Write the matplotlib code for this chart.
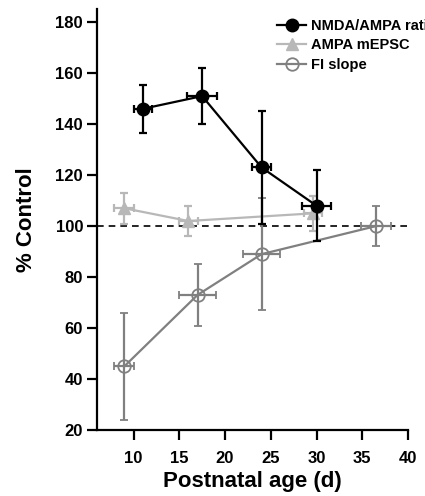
import matplotlib
matplotlib.use("Agg")
import matplotlib.pyplot as plt
from matplotlib.lines import Line2D

plt.rcParams['font.family'] = ['Liberation Sans', 'DejaVu Sans']
plt.rcParams['font.weight'] = 'bold'

# NMDA/AMPA ratio
nmda_x = [11.0, 17.5, 24.0, 30.0]
nmda_y = [146, 151, 123, 108]
nmda_xerr = [1.0, 1.6, 1.0, 1.6]
nmda_yerr = [9.5, 11, 22, 14]

# AMPA mEPSC
ampa_x = [9.0, 16.0, 29.6]
ampa_y = [107, 102, 105]
ampa_xerr = [1.1, 1.0, 1.0]
ampa_yerr = [6, 6, 7]

# FI slope
fi_x = [9.0, 17.0, 24.0, 36.5]
fi_y = [45, 73, 89, 100]
fi_xerr = [1.1, 2.0, 2.0, 1.6]
fi_yerr = [21, 12, 22, 8]

x_ticks = [10, 15, 20, 25, 30, 35, 40]
y_ticks = [20, 40, 60, 80, 100, 120, 140, 160, 180]

fig = plt.figure(figsize=(4.25, 4.96), dpi=100)
ax = fig.add_axes([0.228, 0.133, 0.732, 0.848])

c_fi = '#808080'
c_ampa = '#b8b8b8'

ax.axhline(100, color='black', linestyle=(0, (4, 3)), linewidth=1.2, zorder=1)

ax.errorbar(fi_x, fi_y, xerr=fi_xerr, yerr=fi_yerr, color=c_fi, marker='o',
            markersize=9, markerfacecolor='none', markeredgecolor=c_fi,
            markeredgewidth=1.3, linewidth=1.6, elinewidth=1.6, capsize=3,
            capthick=1.6, zorder=2)
ax.errorbar(ampa_x, ampa_y, xerr=ampa_xerr, yerr=ampa_yerr, color=c_ampa, marker='^',
            markersize=9, linewidth=1.6, elinewidth=1.6, capsize=3, capthick=1.6,
            zorder=3)
ax.errorbar(nmda_x, nmda_y, xerr=nmda_xerr, yerr=nmda_yerr, color='black', marker='o',
            markersize=9, linewidth=1.6, elinewidth=1.6, capsize=3, capthick=1.6,
            zorder=4)

ax.set_xlim(6, 40)
ax.set_ylim(20, 185)
ax.set_xticks(x_ticks)
ax.set_yticks(y_ticks)
ax.spines['top'].set_visible(False)
ax.spines['right'].set_visible(False)
ax.spines['left'].set_linewidth(1.6)
ax.spines['bottom'].set_linewidth(1.6)
ax.tick_params(width=1.6, length=7, labelsize=12)
ax.tick_params(axis='x', pad=8)
ax.tick_params(axis='y', pad=3)
for lbl in ax.get_xticklabels() + ax.get_yticklabels():
    lbl.set_fontweight('bold')

ax.set_xlabel('Postnatal age (d)', fontsize=16, fontweight='bold', labelpad=4)
ax.set_ylabel('% Control', fontsize=16, fontweight='bold', labelpad=13)

handles = [
    Line2D([], [], color='black', marker='o', markersize=9, linewidth=1.6),
    Line2D([], [], color=c_ampa, marker='^', markersize=9, linewidth=1.6),
    Line2D([], [], color=c_fi, marker='o', markersize=9, markerfacecolor='none',
           markeredgewidth=1.3, linewidth=1.6),
]
labels = ['NMDA/AMPA ratio', 'AMPA mEPSC', 'FI slope']
leg = fig.legend(handles, labels, loc='upper left', bbox_to_anchor=(0.652, 0.962),
                 frameon=False, prop={'weight': 'bold', 'size': 10.5},
                 handlelength=2.0, handletextpad=0.3, labelspacing=0.38,
                 borderaxespad=0, borderpad=0)

fig.savefig('out.png', dpi=100)
